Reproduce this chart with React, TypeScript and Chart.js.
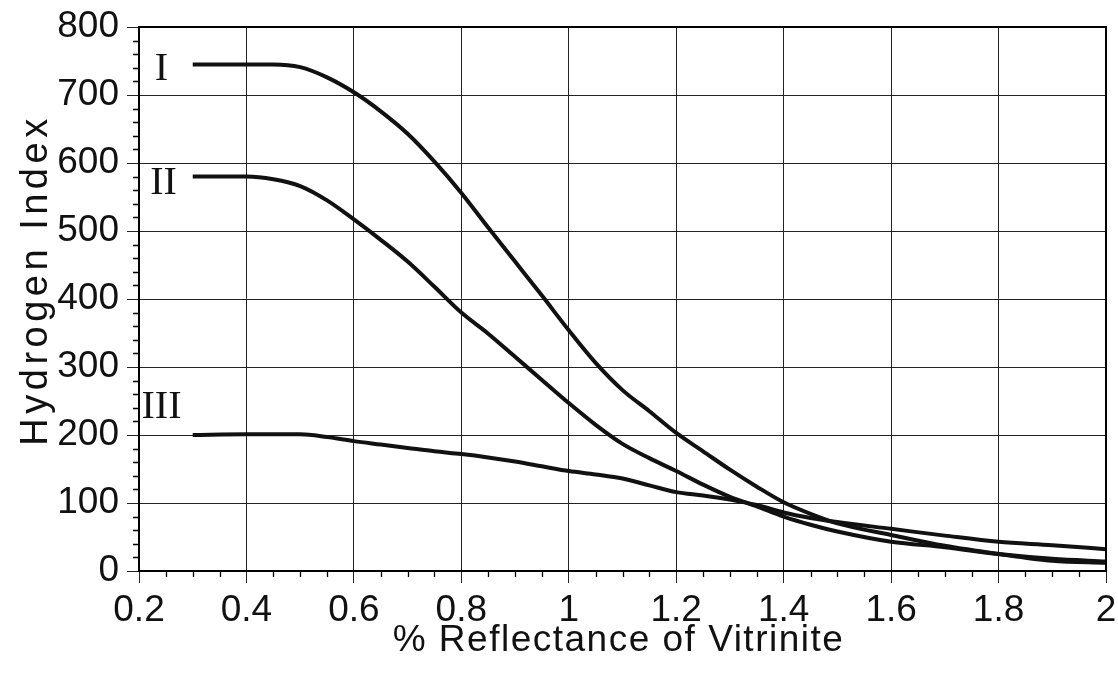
import React, { useEffect, useRef } from "react";
import { Chart, registerables } from "chart.js";

Chart.register(...registerables);

const reflectance = [
  0.3, 0.4, 0.45, 0.5, 0.55, 0.6, 0.65, 0.7, 0.75, 0.8, 0.85, 0.9, 0.95, 1.0,
  1.05, 1.1, 1.15, 1.2, 1.25, 1.3, 1.35, 1.4, 1.45, 1.5, 1.6, 1.7, 1.8, 1.9, 2.0,
];
const typeI = [
  745, 745, 745, 741, 726, 704, 676, 643, 602, 556, 505, 455, 405, 354, 306,
  266, 235, 203, 176, 149, 124, 101, 84, 70, 53, 37, 25, 15, 12,
];
const typeII = [
  580, 580, 576, 566, 545, 517, 487, 455, 418, 380, 349, 315, 281, 247, 215,
  187, 166, 147, 127, 109, 95, 80, 68, 58, 43, 35, 25, 18, 14,
];
const typeIII = [
  200, 201, 201, 201, 197, 191, 186, 181, 176, 172, 167, 161, 154, 147, 142,
  136, 126, 116, 111, 105, 97, 86, 78, 72, 62, 52, 43, 38, 32,
];
const seriesNames = ["I", "II", "III"];
// label anchor (x, y in data units, baseline)
const labelX = [0.2419, 0.2457, 0.2419];
const labelY = [722, 554, 225];

const xTitle = "% Reflectance of Vitrinite";
const yTitle = "Hydrogen Index";

export default function App() {
  const ref = useRef<HTMLCanvasElement | null>(null);

  useEffect(() => {
    const canvas = ref.current;
    if (!canvas) return;
    const series = [typeI, typeII, typeIII];

    const overlay = {
      id: "overlay",
      afterDraw(chart: any) {
        const ctx = chart.ctx as CanvasRenderingContext2D;
        const xs = chart.scales.x;
        const ys = chart.scales.y;
        const a = chart.chartArea;
        ctx.save();
        // frame
        ctx.strokeStyle = "#000";
        ctx.lineWidth = 2;
        ctx.strokeRect(a.left, a.top, a.right - a.left, a.bottom - a.top);
        // minor ticks
        ctx.lineWidth = 1.3;
        ctx.beginPath();
        for (let v = 0; v <= 800; v += 20) {
          if (v % 100 === 0) continue;
          const py = Math.round(ys.getPixelForValue(v)) + 0.5;
          ctx.moveTo(a.left - 6, py);
          ctx.lineTo(a.left, py);
        }
        for (let i = 0; i <= 36; i++) {
          if (i % 4 === 0) continue;
          const v = 0.2 + i * 0.05;
          const px = Math.round(xs.getPixelForValue(v)) + 0.5;
          ctx.moveTo(px, a.bottom);
          ctx.lineTo(px, a.bottom + 6);
        }
        ctx.stroke();
        // series labels
        ctx.fillStyle = "#111";
        ctx.font = '40px "Liberation Serif", "Times New Roman", serif';
        ctx.textAlign = "center";
        ctx.textBaseline = "alphabetic";
        seriesNames.forEach((n, i) => {
          ctx.fillText(n, xs.getPixelForValue(labelX[i]), ys.getPixelForValue(labelY[i]));
        });
        // axis titles
        ctx.font = '37px "Liberation Sans", Arial, sans-serif';
        try {
          (ctx as any).letterSpacing = "1.5px";
        } catch (e) {}
        ctx.fillText(xTitle, (a.left + a.right) / 2 - 4, 651);
        ctx.save();
        ctx.font = '38px "Liberation Sans", Arial, sans-serif';
        try {
          (ctx as any).letterSpacing = "4.5px";
        } catch (e) {}
        ctx.translate(47, 280);
        ctx.rotate(-Math.PI / 2);
        ctx.fillText(yTitle, 0, 0);
        ctx.restore();
        try {
          (ctx as any).letterSpacing = "0px";
        } catch (e) {}
        ctx.restore();
      },
    };

    const chart = new Chart(canvas, {
      type: "line",
      data: {
        datasets: series.map((vals, i) => ({
          label: seriesNames[i],
          data: reflectance.map((x, j) => ({ x, y: vals[j] })),
          borderColor: "#111",
          borderWidth: 4,
          pointRadius: 0,
          fill: false,
          cubicInterpolationMode: "monotone" as const,
        })),
      },
      options: {
        animation: false,
        responsive: true,
        maintainAspectRatio: false,
        layout: { padding: { left: 0, top: 27, right: 12, bottom: 0 } },
        plugins: { legend: { display: false }, tooltip: { enabled: false } },
        scales: {
          x: {
            type: "linear",
            min: 0.2,
            max: 2.0,
            ticks: {
              stepSize: 0.2,
              color: "#111",
              padding: 6,
              font: { family: '"Liberation Sans", Arial, sans-serif', size: 37 },
              callback: (v: any) => String(Number(Number(v).toFixed(1))),
            },
            grid: { color: "#222", lineWidth: 1, tickLength: 12, drawTicks: true },
            border: { display: true, color: "#000", width: 2 },
            afterFit: (s: any) => {
              s.height = 103;
              s.paddingLeft = 0;
              s.paddingRight = 0;
            },
          },
          y: {
            type: "linear",
            min: 0,
            max: 800,
            ticks: {
              stepSize: 100,
              color: "#111",
              padding: 8,
              font: { family: '"Liberation Sans", Arial, sans-serif', size: 37 },
            },
            grid: { color: "#222", lineWidth: 1, tickLength: 12, drawTicks: true },
            border: { display: true, color: "#000", width: 2 },
            afterFit: (s: any) => {
              s.width = 139;
              s.paddingTop = 0;
              s.paddingBottom = 0;
            },
          },
        },
      },
      plugins: [overlay],
    });
    return () => chart.destroy();
  }, []);

  return (
    <div
      style={{
        position: "fixed",
        left: 0,
        top: 0,
        width: 1118,
        height: 674,
        background: "#fff",
      }}
    >
      <canvas ref={ref} />
    </div>
  );
}
